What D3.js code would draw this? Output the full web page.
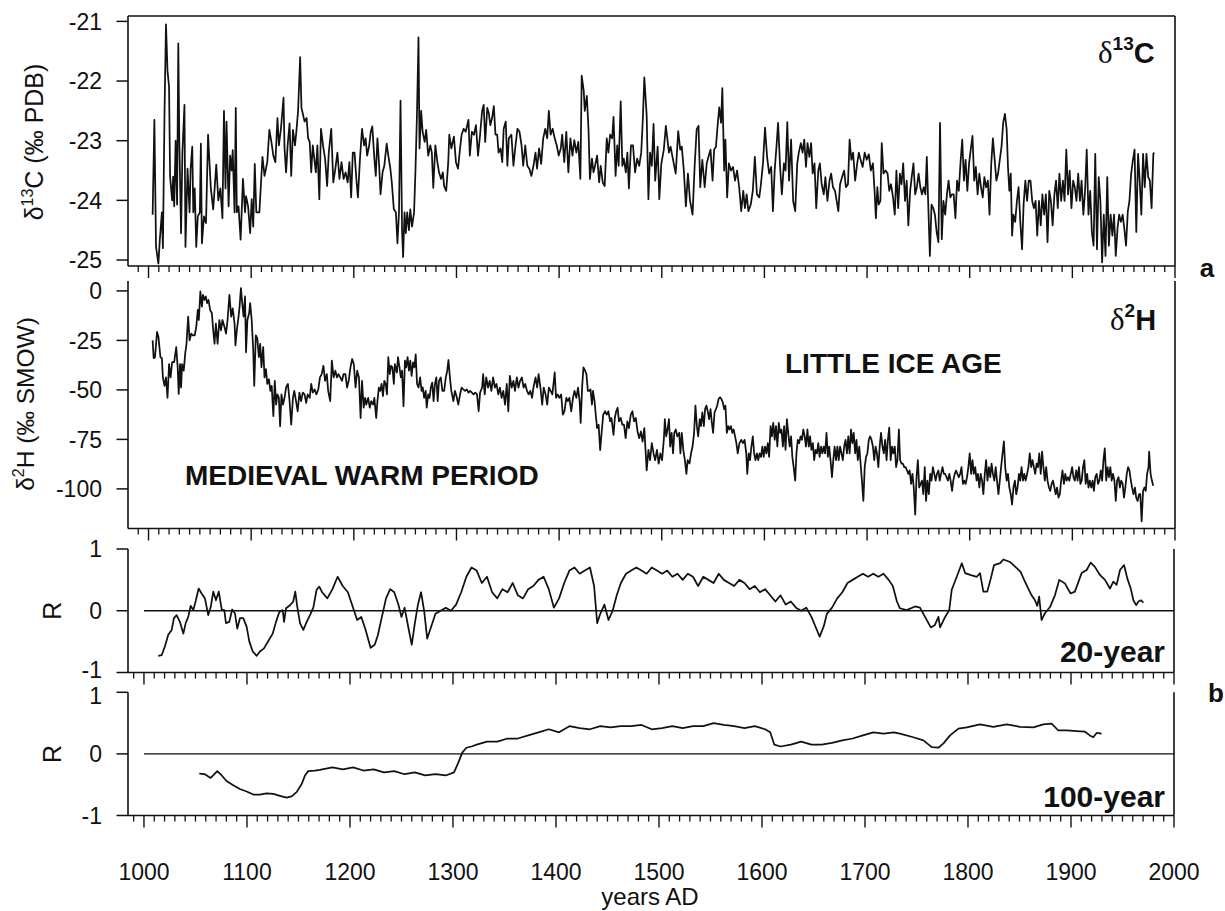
<!DOCTYPE html>
<html>
<head>
<meta charset="utf-8">
<script src="https://cdn.jsdelivr.net/npm/d3@7"></script>
<style>
  html, body { margin: 0; padding: 0; background: #fff; }
  svg { display: block; font-family: "Liberation Sans", Arial, Helvetica, sans-serif; }
</style>
</head>
<body>
<svg id="chart" width="1225" height="911"></svg>
<script>
// ---- data: [year AD, value] ----
const d13c = [[1004,-24.24],[1005.7,-22.65],[1007.3,-24.78],[1009.6,-25.06],[1011,-24.66],[1013,-24.2],[1014,-24.8],[1015.6,-22.5],[1017,-21.05],[1018.5,-21.83],[1020,-22.1],[1021,-23.6],[1023,-24.0],[1024,-23.6],[1025,-24.1],[1026.4,-23.0],[1027.8,-24.07],[1029,-21.37],[1030,-23.0],[1031.7,-24.55],[1033,-23.2],[1035,-22.4],[1036,-24.78],[1038,-23.47],[1040,-24.2],[1041,-23.47],[1042.6,-23.1],[1043.6,-24.2],[1045,-23.8],[1046.5,-24.78],[1048,-24.27],[1050,-24.2],[1051,-23.05],[1052,-24.72],[1054,-24.27],[1056,-24.38],[1058,-22.9],[1060.7,-23.8],[1063,-24.15],[1066,-23.4],[1068,-24.0],[1070,-23.8],[1072,-24.3],[1073.5,-22.5],[1075,-23.8],[1076,-22.68],[1078,-24.1],[1079.5,-23.25],[1081,-23.5],[1082,-23.16],[1083.8,-24.2],[1085,-22.45],[1086,-24.2],[1087.7,-24.1],[1089.7,-24.66],[1092,-23.64],[1094,-24.2],[1095,-23.93],[1097,-24.1],[1099,-24.55],[1100.5,-23.98],[1102,-24.44],[1103.5,-23.39],[1105,-24.2],[1108,-24.2],[1111,-23.27],[1113,-23.59],[1115.7,-23.36],[1117.7,-22.82],[1119.7,-23.02],[1121.6,-23.25],[1123.6,-23.36],[1125.6,-22.62],[1127,-23.08],[1129,-22.8],[1131.5,-22.28],[1132.5,-23.13],[1134,-23.53],[1135.5,-23.08],[1137.4,-22.71],[1139,-23.59],[1140.7,-22.82],[1142.7,-23.08],[1144,-22.85],[1145.7,-22.5],[1147.7,-21.6],[1149,-22.45],[1150.6,-22.57],[1152,-22.68],[1154,-22.62],[1155.5,-22.96],[1157,-23.02],[1158.5,-23.53],[1160,-23.08],[1161.5,-23.3],[1163,-23.53],[1164.5,-23.08],[1166.4,-23.98],[1168,-22.8],[1170,-23.08],[1172,-23.3],[1174,-23.76],[1175.6,-23.2],[1178,-22.8],[1180,-23.7],[1182,-23.47],[1184,-23.2],[1186,-23.64],[1188,-23.36],[1190,-23.64],[1192,-23.53],[1194,-23.7],[1195.7,-23.36],[1197.4,-23.95],[1199,-23.2],[1200.7,-23.2],[1202.7,-23.7],[1204,-23.95],[1206,-23.3],[1208,-22.8],[1210,-23.08],[1211.5,-22.96],[1213,-23.25],[1215,-23.08],[1216.5,-22.85],[1218,-22.76],[1220,-23.3],[1221.4,-23.59],[1223,-22.96],[1224.7,-23.42],[1226,-23.9],[1228,-23.53],[1229.7,-23.42],[1232,-23.05],[1233.6,-23.25],[1235.6,-23.47],[1237,-23.7],[1239,-24.15],[1241,-24.2],[1242.5,-24.72],[1244,-24.2],[1245.5,-22.33],[1247,-24.5],[1248,-24.95],[1249.4,-24.2],[1250.7,-24.55],[1252,-24.2],[1253.7,-24.5],[1255,-24.15],[1256.7,-24.44],[1258.7,-24.2],[1260,-23.53],[1261.6,-22.5],[1263,-21.27],[1264,-23.13],[1265.6,-22.5],[1267,-22.85],[1269,-23.02],[1270.5,-22.82],[1272.5,-23.25],[1274.5,-23.08],[1276,-23.2],[1277.4,-23.79],[1279.4,-23.08],[1281.4,-23.36],[1283,-23.53],[1285,-23.64],[1286.7,-23.53],[1288,-23.76],[1290,-23.84],[1292,-23.36],[1293,-22.9],[1295,-23.13],[1297.5,-22.93],[1299.5,-23.36],[1301.5,-23.47],[1303.5,-23.13],[1305,-22.9],[1307,-22.8],[1309,-22.85],[1311.7,-22.65],[1313,-23.25],[1315,-22.85],[1317,-22.9],[1319,-22.74],[1321,-23.25],[1323,-22.9],[1325,-22.5],[1326.5,-22.4],[1328,-23.02],[1330,-22.45],[1331.5,-22.54],[1333,-22.74],[1334.7,-22.62],[1336.4,-22.42],[1338,-22.9],[1339.7,-22.9],[1341,-23.2],[1343,-23.13],[1344.6,-23.36],[1346,-22.8],[1348,-22.68],[1349.6,-23.42],[1351,-22.96],[1353.5,-22.9],[1355.5,-23.42],[1357.5,-23.08],[1359.4,-22.8],[1361.4,-22.85],[1363.4,-23.08],[1365,-23.42],[1367,-23.08],[1369,-23.42],[1371,-23.47],[1373,-23.59],[1375,-23.42],[1377,-23.2],[1378.5,-23.47],[1380.5,-23.13],[1382.5,-23.39],[1384.5,-22.96],[1386.5,-22.8],[1388.4,-22.96],[1390,-22.5],[1391.7,-22.9],[1393.7,-22.8],[1395.7,-22.96],[1397.7,-23.08],[1399.6,-23.25],[1401.6,-23.13],[1403,-22.9],[1405,-23.36],[1407,-22.85],[1409,-23.53],[1411,-22.96],[1413,-23.25],[1414.8,-22.99],[1416.8,-23.2],[1418.7,-23.02],[1420.7,-23.64],[1422,-21.91],[1424,-22.17],[1425,-22.5],[1427,-22.25],[1428.6,-22.8],[1430,-23.64],[1432,-23.3],[1433.5,-23.53],[1435,-23.42],[1437,-23.25],[1439,-23.7],[1440.5,-23.42],[1442.5,-23.7],[1444.4,-23.76],[1446.4,-22.96],[1448,-23.2],[1449.7,-22.9],[1451.7,-22.96],[1453,-22.6],[1455,-23.59],[1456.6,-23.08],[1458,-23.42],[1460,-22.34],[1461.6,-23.42],[1463,-23.3],[1465,-23.53],[1466.5,-23.2],[1468,-23.8],[1470,-23.08],[1472,-23.08],[1474,-23.53],[1476,-23.3],[1478,-23.42],[1480,-23.2],[1481.6,-22.62],[1483,-21.94],[1485.3,-22.58],[1487,-23.98],[1488.6,-23.2],[1490.3,-23.42],[1492,-22.72],[1493.6,-23.67],[1496,-23.1],[1497.6,-23.98],[1499.6,-23.38],[1502,-23.15],[1504,-22.75],[1507,-23.2],[1508.6,-23.1],[1511,-23.32],[1513.6,-23.55],[1516,-22.84],[1518,-23.15],[1519.5,-23.1],[1521.5,-23.5],[1523.5,-24.1],[1525.5,-23.55],[1527.5,-24.0],[1530,-24.24],[1532,-23.44],[1534,-22.81],[1535.8,-22.75],[1537.5,-23.78],[1539.5,-23.32],[1541.8,-23.78],[1543.8,-23.38],[1545.5,-23.27],[1547.5,-23.15],[1549.5,-23.67],[1551,-23.15],[1552.8,-23.1],[1554.4,-22.75],[1556,-22.44],[1557.8,-22.7],[1559,-22.12],[1560.8,-23.5],[1562,-22.98],[1563.7,-23.95],[1565.4,-23.38],[1567.4,-23.5],[1569.4,-23.44],[1571.4,-23.67],[1573.4,-23.5],[1575.4,-23.78],[1577.4,-24.18],[1579.4,-23.84],[1581,-24.13],[1582.7,-23.9],[1584.4,-24.18],[1586.7,-24.07],[1588.7,-23.84],[1590.7,-23.27],[1592.7,-23.9],[1595,-23.95],[1596.6,-23.73],[1598.6,-23.38],[1600.6,-22.78],[1602.6,-23.27],[1604.6,-23.55],[1606.6,-23.44],[1608.3,-24.18],[1610,-23.5],[1612,-23.04],[1613.3,-22.7],[1615.3,-23.44],[1617,-23.9],[1619,-23.38],[1620.6,-23.5],[1622.3,-22.69],[1624,-23.67],[1626,-22.98],[1628,-24.01],[1630,-24.18],[1632,-23.38],[1633.5,-23.2],[1635.5,-23.04],[1637.2,-23.2],[1638.8,-22.98],[1640.5,-23.44],[1642,-23.04],[1643.8,-23.27],[1645.5,-23.04],[1647,-23.55],[1648.8,-23.38],[1650.5,-24.13],[1652.5,-23.5],[1654,-23.38],[1655.8,-23.73],[1657.8,-23.9],[1659.4,-23.61],[1661.4,-24.01],[1663.4,-23.67],[1665,-23.55],[1666.8,-23.78],[1668.8,-23.84],[1670.4,-24.01],[1672,-24.18],[1673.7,-23.73],[1675.7,-23.61],[1677.7,-23.5],[1679.4,-23.78],[1681.4,-23.73],[1683,-22.98],[1684.7,-23.32],[1686.4,-23.2],[1688.4,-23.67],[1690.4,-23.38],[1692,-23.2],[1693.7,-23.32],[1695.7,-23.44],[1697.7,-23.2],[1699.7,-23.32],[1701.7,-23.23],[1703.7,-23.5],[1705.7,-23.38],[1707.3,-23.84],[1708.6,-24.3],[1710,-23.78],[1711.3,-24.07],[1713,-24.01],[1714.3,-23.04],[1716,-23.55],[1718,-23.5],[1720,-23.55],[1721.6,-23.84],[1723.3,-23.73],[1725.3,-23.95],[1727,-24.24],[1728.6,-23.5],[1730.3,-24.13],[1732,-23.55],[1733.6,-23.73],[1735.2,-23.38],[1737,-24.01],[1738.6,-23.67],[1740.2,-24.42],[1742,-23.84],[1743.5,-23.61],[1745.2,-23.38],[1746.9,-23.9],[1748.5,-23.78],[1750.2,-23.55],[1751.9,-23.78],[1753.5,-23.9],[1755.2,-23.78],[1756.8,-23.9],[1758.2,-23.27],[1759.5,-24.01],[1761.2,-24.93],[1762.8,-24.07],[1764.5,-24.13],[1766.1,-24.24],[1767.8,-24.53],[1769.5,-24.7],[1771.1,-22.7],[1772.8,-24.65],[1774.4,-24.01],[1776.1,-24.24],[1777.8,-23.9],[1779.4,-23.67],[1781.1,-23.95],[1782.7,-23.9],[1784.4,-23.9],[1786.1,-24.3],[1787.7,-23.67],[1789.4,-23.84],[1791,-23.38],[1792.7,-22.98],[1794.4,-23.67],[1796,-23.32],[1797.7,-23.84],[1799.4,-23.38],[1801,-23.15],[1802.7,-22.92],[1804.4,-23.67],[1806,-23.44],[1807.7,-23.9],[1809.4,-23.55],[1811,-23.78],[1812.7,-23.95],[1814.3,-23.61],[1816,-23.78],[1817.7,-23.67],[1819.3,-24.24],[1821,-23.38],[1822.6,-22.96],[1824.3,-23.32],[1826,-23.67],[1827.6,-23.55],[1829.3,-23.32],[1831,-23.1],[1832.6,-22.7],[1834.3,-22.55],[1836,-22.81],[1837.3,-23.44],[1838.6,-23.84],[1840,-23.55],[1841.3,-24.59],[1842.6,-24.24],[1844.3,-24.36],[1846,-24.01],[1847.6,-23.78],[1849.3,-24.36],[1851,-24.82],[1852.5,-24.07],[1854.2,-23.67],[1855.9,-24.01],[1857.5,-23.67],[1859.2,-23.67],[1860.9,-24.01],[1862.5,-24.13],[1864.2,-24.01],[1865.8,-24.59],[1867.5,-24.01],[1869.2,-24.42],[1870.8,-23.9],[1872.5,-24.24],[1874.2,-23.9],[1875.8,-24.7],[1877.5,-23.84],[1879.1,-24.01],[1880.8,-24.42],[1882.5,-23.9],[1884.1,-23.67],[1885.8,-24.13],[1887.4,-23.55],[1889.1,-24.01],[1890.8,-23.67],[1892.4,-24.01],[1894.1,-23.15],[1895.8,-23.9],[1897.4,-23.5],[1899.1,-24.13],[1900.8,-23.67],[1902.4,-23.78],[1904,-24.01],[1905.7,-23.55],[1907.4,-24.01],[1909,-23.67],[1910.7,-24.24],[1912.4,-23.84],[1914,-23.15],[1915.7,-24.24],[1917.4,-23.84],[1919,-24.53],[1920.7,-24.76],[1922.3,-23.22],[1924,-24.82],[1925.7,-23.61],[1927.3,-24.01],[1929,-25.04],[1930.6,-24.24],[1932.3,-24.93],[1934,-23.61],[1935.6,-24.76],[1937.3,-24.24],[1939,-24.59],[1940.6,-24.24],[1942.3,-24.93],[1944,-24.47],[1945.6,-24.24],[1947.3,-24.36],[1949,-24.24],[1950.6,-24.47],[1952.3,-24.76],[1954,-24.19],[1955.6,-24.01],[1957.3,-23.55],[1959,-23.32],[1960.6,-23.15],[1962.3,-24.53],[1964,-23.22],[1965.6,-23.67],[1967.2,-24.24],[1968.9,-23.22],[1970.5,-23.78],[1972.2,-23.22],[1973.9,-23.61],[1975.5,-23.67],[1977.2,-24.13],[1978.9,-23.22],[1979.8,-23.2]];

const d2h = [[1004,-25],[1005,-34],[1006.3,-33.5],[1008.3,-20.7],[1009.6,-23],[1011.6,-33.5],[1013,-34],[1014,-43.7],[1015.6,-48],[1017,-43.7],[1018.5,-54],[1020,-37],[1021.5,-43.7],[1023,-36],[1025,-36],[1027,-28.4],[1028.4,-38.6],[1029.4,-52],[1030.7,-37],[1031.7,-48.8],[1032.7,-37],[1034.3,-40.3],[1035.7,-31.8],[1037,-26.7],[1038.6,-13],[1040,-25],[1041.6,-21.6],[1043,-22.4],[1045,-22.4],[1046.5,-18.2],[1048,-9.6],[1049,-14.7],[1050.5,-0.3],[1052,-8],[1053,-2],[1054.4,-4.5],[1055.8,-2.8],[1057,-6.2],[1058.4,-4.5],[1060,-9.6],[1061.7,-11.3],[1063,-19.9],[1064.3,-26.7],[1065.6,-16.5],[1067.3,-26.7],[1069,-14.7],[1070.6,-19.9],[1072,-14.7],[1074,-18.2],[1075.5,-21.6],[1077,-14.7],[1078.8,-2],[1080.5,-13],[1082,-8.8],[1083.8,-16.5],[1084.7,-27.5],[1086,-19.9],[1087.7,-13],[1088.7,-8],[1090,1.4],[1091.3,-6.2],[1092.6,-13],[1094,-2.8],[1095,-31],[1096.3,-14.7],[1098,-11.3],[1099,-6.2],[1100.5,-14.7],[1102,-30],[1103,-48],[1104.5,-22.4],[1106,-24],[1107.5,-33.5],[1108.8,-26.7],[1110,-38.6],[1111.7,-28.4],[1113,-43.7],[1114.4,-39.5],[1115.7,-47],[1117.3,-44.6],[1118.7,-50.5],[1120,-48],[1121.6,-63.3],[1123,-45.4],[1124.3,-57.4],[1125.6,-52.3],[1127,-54],[1128.2,-68.4],[1129.5,-52.3],[1131,-57.4],[1132.5,-54],[1134,-48.8],[1135.8,-47],[1137.4,-55.7],[1139,-67.6],[1140.7,-54],[1142,-50.5],[1143.7,-55.7],[1145.3,-60.9],[1147,-51.4],[1148.6,-55.7],[1150.3,-51.4],[1152,-52.3],[1153.6,-56.5],[1155,-52.3],[1157,-54],[1158.5,-47],[1160,-51.4],[1161.8,-49.7],[1163.5,-52.3],[1165.4,-49.7],[1167,-43.7],[1168.7,-42],[1170.4,-37.8],[1172,-45.4],[1173.7,-42],[1175,-50.5],[1177,-55.7],[1178.6,-35.2],[1180.3,-43.7],[1182,-40.3],[1183.6,-43.7],[1185,-42],[1186.8,-43.7],[1188.5,-45.4],[1190,-42],[1191.8,-42],[1193.4,-48.8],[1195,-45.4],[1196.7,-38.6],[1198.4,-34.4],[1200,-37],[1201.7,-48.8],[1203.3,-40.3],[1205,-43.7],[1206.6,-64.2],[1208,-45.4],[1209.6,-59],[1211,-54],[1212.2,-57.4],[1214,-54],[1215.5,-59],[1217,-55.7],[1218.8,-57.4],[1220,-54],[1221.8,-64.2],[1223,-55.7],[1224.4,-48.8],[1225.7,-50.5],[1227,-47],[1228.4,-53.1],[1229.7,-45.4],[1231,-47],[1232.3,-52.3],[1233.6,-33.5],[1235,-42],[1236.3,-37.8],[1237.6,-38.6],[1239,-47],[1240,-37],[1242,-41.2],[1243,-33.5],[1244.5,-38.6],[1245.8,-43.7],[1247,-40.3],[1248.4,-58.2],[1249.8,-35.2],[1251,-38.6],[1252.4,-33.5],[1253.7,-40.3],[1255,-35.2],[1256.3,-42.9],[1257.7,-36.1],[1259,-38.6],[1260.3,-32.1],[1261.6,-47],[1263,-48.8],[1264.6,-43.7],[1266,-50.5],[1267.2,-48.8],[1268.5,-54],[1270,-50.5],[1271,-59],[1272.5,-52.3],[1273.8,-54],[1275,-48.8],[1276.4,-46.3],[1277.7,-55.7],[1279,-47],[1280.4,-43.7],[1281.7,-55.7],[1283,-45.4],[1284.7,-43.7],[1286.3,-50.5],[1288,-50.5],[1289.6,-43.7],[1291,-40.3],[1292.2,-34.9],[1293.6,-43.7],[1295,-50.5],[1297,-55.7],[1298.5,-50.5],[1300,-53.1],[1301.8,-57.4],[1303.5,-52.3],[1305,-48.8],[1306.7,-49.7],[1308.4,-50.5],[1310,-49.7],[1311.7,-51.4],[1313.3,-50.5],[1315,-51.4],[1316.6,-52.3],[1318.3,-51.4],[1320,-52.3],[1321.6,-60.8],[1323,-51.4],[1325,-48.8],[1326,-42],[1327.5,-52.3],[1329,-43.7],[1330.8,-48.8],[1332.4,-45.4],[1334,-50.5],[1335.7,-43.7],[1337.4,-48.8],[1339,-47],[1340.7,-52.3],[1342.3,-48.8],[1344,-54],[1345.6,-50.5],[1347.3,-57.4],[1349,-47],[1350.5,-60.8],[1352,-42.9],[1353.8,-48.8],[1355.5,-45.4],[1357,-50.5],[1358.8,-43.7],[1360.4,-48.8],[1362,-45.4],[1363.7,-43.7],[1365.4,-48.8],[1367,-47],[1368.7,-50.5],[1370.3,-52.3],[1372,-50.5],[1373.6,-54],[1375,-48.8],[1377,-43.7],[1378.6,-48.8],[1380,-42],[1381.8,-48.8],[1383.5,-57.4],[1385,-48.8],[1386.8,-52.3],[1388.4,-57.4],[1390,-48.8],[1391.7,-50.5],[1393.4,-52.3],[1395.7,-41.2],[1397,-54],[1398.6,-52.3],[1400.3,-54],[1402,-52.3],[1403.6,-62.5],[1405.2,-60.8],[1407,-54],[1408.5,-55.7],[1410,-54],[1411.8,-60.8],[1413.5,-54],[1415,-50.5],[1416.8,-54],[1418.4,-48.8],[1420,-55.7],[1421,-66.7],[1422.4,-48.8],[1423.7,-38.6],[1425.3,-40.3],[1426.6,-42],[1428,-50.5],[1429.3,-50.5],[1430.6,-49.7],[1432,-57.4],[1433,-50.5],[1434.5,-55.7],[1436,-64.2],[1437,-69.3],[1438.5,-67.6],[1440,-80.4],[1441.5,-71],[1443,-62.5],[1444.8,-60.8],[1446.4,-62.5],[1448,-60.8],[1449.7,-65.9],[1451,-64.2],[1453,-72.7],[1454.3,-64.2],[1455.6,-60.8],[1457,-59],[1458.3,-65.9],[1460,-64.2],[1461.6,-67.6],[1463.2,-67.6],[1464.8,-74.4],[1466.5,-65.9],[1468,-69.3],[1469.8,-62.5],[1471.4,-60.8],[1473,-65.9],[1474.7,-64.2],[1476.4,-71],[1478,-74.4],[1479.7,-71],[1481.3,-76.1],[1483,-69.3],[1485.3,-90.7],[1487,-80.3],[1488.6,-85.5],[1490.3,-76.9],[1492,-82.1],[1493.6,-85.5],[1495.3,-80.3],[1497,-87.2],[1498.6,-82.1],[1500.3,-85.5],[1502,-75.2],[1503,-64.8],[1504.3,-73.5],[1505.6,-70],[1507,-64.8],[1508.2,-78.6],[1509.6,-71.7],[1511,-82.1],[1512.2,-71.7],[1513.6,-70],[1515.2,-73.5],[1517,-71.7],[1518.2,-82.1],[1519.5,-71.7],[1521,-80.3],[1522.5,-85.5],[1524,-92.4],[1525.2,-85.5],[1527,-87.2],[1528.5,-82.1],[1530,-78.6],[1531.5,-71.7],[1532.8,-57.9],[1534.2,-68.3],[1535.5,-73.5],[1537,-64.8],[1538.2,-68.3],[1539.5,-61.4],[1541,-68.3],[1542.2,-59.7],[1543.5,-57.9],[1545,-61.4],[1546.1,-64.8],[1547.5,-59.7],[1548.8,-66.6],[1550,-71.7],[1551.4,-61.4],[1552.8,-59.7],[1554,-57.9],[1555.4,-54.5],[1556.8,-53.7],[1558,-54.5],[1559.4,-56.2],[1560.8,-59.7],[1562,-57.9],[1563.4,-71.7],[1564.8,-68.3],[1566,-70],[1567.4,-68.3],[1568.7,-71.7],[1570,-70],[1571.4,-73.5],[1572.7,-76.9],[1574,-82.1],[1575.7,-76.9],[1577.4,-75.2],[1579,-76.9],[1580.7,-75.2],[1582.3,-82.1],[1583.3,-92.4],[1584.7,-82.1],[1586,-85.5],[1587.3,-78.6],[1588.7,-73.5],[1590,-82.1],[1591.3,-85.5],[1592.7,-82.1],[1594,-85.5],[1595.3,-82.1],[1596.7,-83.8],[1598,-78.6],[1599.3,-83.8],[1600.6,-78.6],[1602,-82.1],[1603.3,-76.9],[1604.6,-83.8],[1606,-68.3],[1607.3,-73.5],[1608.6,-66.6],[1610,-75.2],[1611.3,-68.3],[1612.6,-78.6],[1614,-66.6],[1615.3,-71.7],[1616.6,-70],[1618,-78.6],[1619.2,-68.3],[1620.6,-80.3],[1621.9,-64.8],[1623.2,-71.7],[1624.6,-78.6],[1626,-73.5],[1627.2,-83.8],[1628.5,-89],[1630,-95.8],[1631.2,-82.1],[1632.5,-75.2],[1633.9,-76.9],[1635.2,-73.5],[1636.5,-75.2],[1637.9,-70],[1639.2,-73.5],[1640.5,-78.6],[1641.9,-70],[1643.2,-78.6],[1644.5,-73.5],[1645.8,-80.3],[1647.2,-76.9],[1648.5,-85.5],[1649.8,-80.3],[1651.2,-82.1],[1652.5,-76.9],[1653.8,-83.8],[1655.1,-78.6],[1656.5,-82.1],[1657.8,-78.6],[1659.1,-82.1],[1660.5,-71.7],[1661.8,-83.8],[1663.1,-78.6],[1664.4,-85.5],[1665.8,-94.1],[1667.1,-85.5],[1668.4,-78.6],[1669.8,-85.5],[1671.1,-78.6],[1672.4,-85.5],[1673.7,-78.6],[1675.1,-82.1],[1676.4,-85.5],[1677.7,-78.6],[1679,-75.2],[1680.4,-82.1],[1681.7,-73.5],[1683,-82.1],[1684.4,-70],[1685.7,-76.9],[1687,-71.7],[1688.4,-82.1],[1689.7,-75.2],[1691,-85.5],[1692.4,-78.6],[1693.7,-87.2],[1695,-95.8],[1696.4,-106.1],[1697.7,-89],[1699,-83.8],[1700.3,-82.1],[1701.7,-75.2],[1703,-73.5],[1704.3,-75.2],[1705.7,-78.6],[1707,-85.5],[1708.3,-78.6],[1709.6,-82.1],[1711,-89],[1712.3,-78.6],[1713.6,-71.7],[1715,-78.6],[1716.3,-82.1],[1717.6,-75.2],[1719,-85.5],[1720.3,-75.2],[1721.6,-69.1],[1723,-85.5],[1724.3,-78.6],[1725.6,-82.1],[1727,-78.6],[1728.3,-89],[1729.6,-85.5],[1731,-70],[1732.2,-85.5],[1733.6,-87.2],[1734.9,-87.2],[1736.2,-89],[1737.6,-89],[1738.9,-90.7],[1740.2,-92.4],[1741.5,-90.7],[1742.9,-97.5],[1744.2,-92.4],[1745.5,-99.3],[1746.9,-113],[1748.2,-94.1],[1749.5,-85.5],[1750.8,-99.3],[1752.2,-97.5],[1753.5,-95.8],[1754.8,-102.7],[1756.2,-89],[1757.5,-106.1],[1758.8,-95.8],[1760.2,-102.7],[1761.5,-92.4],[1762.8,-95.8],[1764.1,-89],[1765.5,-92.4],[1766.8,-95.8],[1768.1,-92.4],[1769.5,-90.7],[1770.8,-95.8],[1772.1,-92.4],[1773.5,-89],[1774.8,-92.4],[1776.1,-92.4],[1777.4,-94.1],[1778.8,-95.8],[1780.1,-92.4],[1781.4,-95.8],[1782.8,-101],[1784,-95.8],[1785.4,-92.4],[1786.7,-90.7],[1788,-92.4],[1789.4,-94.1],[1790.7,-92.4],[1792,-89],[1793.4,-97.5],[1794.7,-95.8],[1796,-97.5],[1797.4,-94.1],[1798.7,-89],[1800,-82.1],[1801.4,-92.4],[1802.7,-85.5],[1804,-92.4],[1805.4,-89],[1806.7,-95.8],[1808,-92.4],[1809.4,-99.3],[1810.7,-92.4],[1812,-95.8],[1813.3,-102.7],[1814.7,-92.4],[1816,-85.5],[1817.3,-95.8],[1818.7,-89],[1820,-94.1],[1821.3,-87.2],[1822.6,-92.4],[1824,-95.8],[1825.3,-89],[1826.6,-95.8],[1828,-102.7],[1829.3,-95.8],[1830.6,-89],[1832,-82.1],[1833.3,-76],[1834.6,-89],[1836,-95.8],[1837.3,-92.4],[1838.6,-99.3],[1840,-102.7],[1841.3,-107.9],[1842.6,-99.3],[1844,-95.8],[1845.3,-102.7],[1846.6,-99.3],[1848,-92.4],[1849.2,-95.8],[1850.5,-89],[1851.9,-95.8],[1853.2,-92.4],[1854.5,-95.8],[1855.9,-92.4],[1857.2,-89],[1858.5,-82.1],[1859.9,-89],[1861.2,-85.5],[1862.5,-89],[1863.8,-92.4],[1865.2,-87.2],[1866.5,-89],[1867.8,-82.1],[1869.2,-92.4],[1870.5,-81.2],[1871.8,-89],[1873.2,-95.8],[1874.5,-89],[1875.8,-95.8],[1877.2,-99.3],[1878.5,-101],[1879.8,-97.5],[1881.1,-95.8],[1882.5,-99.3],[1883.8,-102.7],[1885.1,-99.3],[1886.5,-104.4],[1887.8,-102.7],[1889.1,-95.8],[1890.4,-90.7],[1891.8,-97.5],[1893.1,-92.4],[1894.4,-95.8],[1895.8,-94.1],[1897.1,-95.8],[1898.4,-92.4],[1899.8,-89],[1901.1,-94.1],[1902.4,-95.8],[1903.8,-90.7],[1905.1,-95.8],[1906.4,-89],[1907.8,-97.5],[1909.1,-95.8],[1910.4,-89],[1911.7,-85.5],[1913,-97.5],[1914.4,-92.4],[1915.7,-99.3],[1917,-95.8],[1918.4,-99.3],[1919.7,-95.8],[1921,-101],[1922.3,-94.1],[1923.7,-92.4],[1925,-97.5],[1926.3,-95.8],[1927.7,-90.7],[1929,-95.8],[1930.3,-85.5],[1931.6,-79.5],[1933,-95.8],[1934.3,-89],[1935.6,-94.1],[1937,-89],[1938.3,-95.8],[1939.6,-92.4],[1941,-95.8],[1942.3,-106.1],[1943.6,-95.8],[1945,-94.1],[1946.3,-99.3],[1947.6,-95.8],[1949,-97.5],[1950.3,-104.4],[1951.6,-99.3],[1953,-92.4],[1954.3,-89],[1955.6,-90.7],[1957,-95.8],[1958.2,-99.3],[1959.6,-102.7],[1961,-99.3],[1962.2,-104.4],[1963.6,-106.1],[1965,-102.7],[1966.2,-102.7],[1967.5,-116.4],[1968.9,-101],[1970.2,-99.3],[1971.5,-101],[1972.8,-92.4],[1974.2,-89],[1974.8,-81.2],[1976.2,-92.4],[1977.5,-95.8],[1978.8,-98.4]];

// running correlation between the two isotope series, 20-year window
const r20 = [[1013.9,-0.73],[1017.2,-0.72],[1020.3,-0.58],[1023.6,-0.39],[1026.9,-0.31],[1029.1,-0.12],[1031.7,-0.07],[1034.9,-0.18],[1038.2,-0.37],[1040.5,-0.2],[1043,-0.1],[1045.3,0.08],[1047.9,0.01],[1050.4,0.17],[1053.1,0.36],[1056,0.28],[1059.2,0.2],[1062.4,-0.07],[1064.8,0.06],[1067.3,0.31],[1069.9,0.17],[1072.6,0.31],[1075.5,0.02],[1078,0.01],[1079.6,-0.2],[1082.8,-0.18],[1085.7,0.02],[1088.3,-0.04],[1090.6,-0.29],[1093.2,-0.12],[1096.4,-0.12],[1099.7,-0.26],[1102.3,-0.5],[1105.6,-0.66],[1109.4,-0.73],[1112.6,-0.66],[1116.5,-0.61],[1120.7,-0.49],[1125,-0.37],[1128.2,-0.18],[1131.4,-0.02],[1134.7,0.01],[1136,-0.18],[1137.9,0.04],[1141.8,0.09],[1144.9,0.15],[1146.9,0.31],[1148.9,0.06],[1151.5,-0.2],[1154.7,-0.31],[1158,-0.18],[1161.2,-0.07],[1164.4,0.05],[1167.6,0.34],[1170.2,0.39],[1173,0.3],[1178,0.2],[1183,0.35],[1188,0.55],[1193,0.4],[1198,0.3],[1203,0.05],[1207,-0.15],[1211,-0.1],[1215,-0.3],[1220,-0.6],[1224,-0.55],[1227,-0.4],[1231,-0.1],[1235,0.2],[1239,0.35],[1243,0.3],[1247,0.1],[1250,-0.1],[1253,0.05],[1257,-0.3],[1260,-0.55],[1263,-0.2],[1266,0.1],[1269,0.3],[1272,0.0],[1275,-0.45],[1278,-0.3],[1283,-0.05],[1288,0.0],[1293,0.05],[1298,0.0],[1303,0.1],[1308,0.3],[1313,0.55],[1318,0.7],[1323,0.65],[1328,0.45],[1333,0.55],[1338,0.3],[1343,0.2],[1348,0.35],[1353,0.3],[1358,0.45],[1363,0.25],[1368,0.2],[1373,0.35],[1378,0.4],[1383,0.5],[1388,0.55],[1393,0.35],[1398,0.05],[1403,0.2],[1408,0.45],[1413,0.65],[1418,0.7],[1423,0.6],[1428,0.65],[1433,0.7],[1437,0.4],[1440,-0.2],[1443,-0.05],[1447,0.1],[1451,-0.15],[1455,0.0],[1459,0.25],[1463,0.45],[1468,0.6],[1473,0.65],[1478,0.7],[1483,0.65],[1488,0.6],[1493,0.7],[1498,0.65],[1503,0.6],[1508,0.65],[1513,0.55],[1518,0.6],[1523,0.5],[1528,0.6],[1533,0.55],[1538,0.4],[1543,0.55],[1548,0.5],[1553,0.45],[1558,0.6],[1563,0.5],[1568,0.45],[1573,0.4],[1578,0.5],[1583,0.45],[1588,0.35],[1593,0.4],[1598,0.3],[1603,0.35],[1608,0.25],[1613,0.15],[1618,0.25],[1623,0.1],[1628,0.15],[1633,0.05],[1638,0.0],[1643,0.05],[1648,-0.1],[1653,-0.3],[1656,-0.42],[1660,-0.25],[1663,-0.05],[1668,0.05],[1673,0.2],[1678,0.3],[1683,0.45],[1688,0.5],[1693,0.55],[1698,0.6],[1703,0.55],[1708,0.6],[1713,0.55],[1718,0.6],[1723,0.5],[1727,0.4],[1731,0.15],[1733.9,0.04],[1740.5,0.01],[1748.6,0.07],[1753.4,0.05],[1758.3,-0.1],[1763.9,-0.27],[1767.9,-0.23],[1771.3,-0.1],[1772.9,-0.27],[1777.8,-0.1],[1781.8,0.01],[1784.2,0.34],[1789.1,0.55],[1794,0.77],[1797.2,0.61],[1802.1,0.58],[1808.6,0.55],[1811.7,0.61],[1814.9,0.31],[1818.7,0.31],[1822.1,0.52],[1825.3,0.74],[1831.2,0.77],[1834.4,0.83],[1840.8,0.79],[1847.3,0.69],[1851.1,0.63],[1855.3,0.47],[1858.5,0.36],[1861.8,0.25],[1865,0.17],[1867.3,0.08],[1869.1,0.23],[1871.4,-0.15],[1874.7,-0.04],[1879.6,0.06],[1884.4,0.25],[1888.6,0.5],[1894.2,0.44],[1899.6,0.28],[1903.8,0.31],[1910.3,0.61],[1915.2,0.66],[1919.1,0.78],[1923.2,0.71],[1928.1,0.58],[1933,0.5],[1937.8,0.36],[1941.1,0.47],[1944.3,0.42],[1947.6,0.66],[1951.5,0.74],[1954.7,0.52],[1958,0.36],[1960.6,0.17],[1963.2,0.09],[1965.5,0.15],[1967.9,0.17],[1970.3,0.13]];

// running correlation, 100-year window
const r100 = [[1053.7,-0.32],[1059.1,-0.33],[1064.7,-0.39],[1067.2,-0.35],[1071.2,-0.28],[1075.5,-0.35],[1080.1,-0.44],[1086.7,-0.51],[1093.1,-0.57],[1099.7,-0.61],[1106.1,-0.66],[1112.6,-0.66],[1119,-0.64],[1125.6,-0.65],[1132,-0.68],[1138.5,-0.71],[1143.3,-0.69],[1148.2,-0.62],[1153.1,-0.49],[1156.3,-0.35],[1159.5,-0.28],[1165.9,-0.27],[1170.8,-0.26],[1173,-0.25],[1183,-0.22],[1193,-0.25],[1203,-0.22],[1213,-0.27],[1223,-0.25],[1233,-0.3],[1243,-0.28],[1253,-0.33],[1263,-0.3],[1273,-0.35],[1283,-0.33],[1293,-0.35],[1301,-0.3],[1305,-0.15],[1309,0.02],[1313,0.1],[1318,0.12],[1323,0.15],[1333,0.2],[1343,0.2],[1353,0.25],[1363,0.25],[1373,0.3],[1383,0.35],[1393,0.4],[1403,0.35],[1413,0.45],[1423,0.42],[1433,0.4],[1443,0.45],[1453,0.43],[1463,0.45],[1473,0.45],[1483,0.47],[1493,0.4],[1503,0.42],[1513,0.45],[1523,0.42],[1533,0.45],[1543,0.45],[1553,0.5],[1563,0.47],[1573,0.45],[1583,0.42],[1593,0.45],[1603,0.4],[1608,0.35],[1612,0.15],[1618,0.12],[1628,0.15],[1638,0.2],[1648,0.15],[1658,0.15],[1668,0.18],[1678,0.22],[1688,0.25],[1698,0.3],[1708,0.35],[1718,0.33],[1728,0.35],[1733.9,0.33],[1746.9,0.27],[1756.7,0.22],[1764.8,0.11],[1771.3,0.1],[1776.2,0.17],[1782.6,0.3],[1790.7,0.41],[1798.7,0.43],[1811.7,0.48],[1824.6,0.44],[1837.6,0.48],[1850.5,0.44],[1863.5,0.43],[1873.1,0.48],[1881.2,0.49],[1887.7,0.38],[1895.7,0.38],[1905.5,0.37],[1913.6,0.36],[1918.3,0.3],[1921.6,0.27],[1924.9,0.34],[1929.7,0.33]];

// ---- ticks & labels ----
const d13cTicks = [-25, -24, -23, -22, -21];
const d2hTicks = [-100, -75, -50, -25, 0];
const rTicks = [-1, 0, 1];
const yearMajor = d3.range(1000, 2001, 100);
const yearMinor = d3.range(990, 2001, 10);

// ---- layout ----
const svg = d3.select("#chart");
const xA = d3.scaleLinear().domain([980, 2000]).range([128, 1175]);   // part a
const xB = d3.scaleLinear().domain([984.5, 2000]).range([128, 1174]); // part b
const LEFT = 128;

// labelShift nudges stacked tick labels apart where two panels meet
const panels = [
  { x: xA, y: d3.scaleLinear().domain([-25.1, -20.91]).range([266, 16]), ticks: d13cTicks, data: d13c, top: true },
  { x: xA, y: d3.scaleLinear().domain([-120, 5]).range([528.5, 281]), ticks: d2hTicks, data: d2h },
  { x: xB, y: d3.scaleLinear().domain([-1, 1]).range([672.5, 549]), ticks: rTicks, data: r20, zero: true, labelShift: { "-1": -3 } },
  { x: xB, y: d3.scaleLinear().domain([-1, 1]).range([815.5, 692.3]), ticks: rTicks, data: r100, zero: true, labels: true, labelShift: { "1": 3 } }
];

const ink = "#111";
const fmt = d => (d < 0 ? "-" + Math.abs(d) : String(d));

panels.forEach(p => {
  const [yBot, yTop] = p.y.range();
  const xR = p.x.range()[1];
  const g = svg.append("g");
  const shift = p.labelShift || {};

  // frame: left axis, bottom axis, right edge (top edge on first panel)
  g.append("line").attr("x1", LEFT).attr("x2", LEFT).attr("y1", yTop).attr("y2", yBot)
    .attr("stroke", ink).attr("stroke-width", 1.6);
  g.append("line").attr("x1", LEFT).attr("x2", xR).attr("y1", yBot).attr("y2", yBot)
    .attr("stroke", ink).attr("stroke-width", 1.6);
  g.append("line").attr("x1", xR).attr("x2", xR).attr("y1", yTop).attr("y2", yBot)
    .attr("stroke", ink).attr("stroke-width", 1.6);
  if (p.top) {
    g.append("line").attr("x1", LEFT).attr("x2", xR).attr("y1", yTop).attr("y2", yTop)
      .attr("stroke", ink).attr("stroke-width", 1.6);
  }

  // y ticks and labels
  g.selectAll(".yt").data(p.ticks).join("line")
    .attr("x1", LEFT - 11.5).attr("x2", LEFT)
    .attr("y1", d => p.y(d)).attr("y2", d => p.y(d))
    .attr("stroke", ink).attr("stroke-width", 1.5);
  g.selectAll(".yl").data(p.ticks).join("text")
    .attr("x", 102).attr("y", d => p.y(d) + (shift[String(d)] || 0)).attr("dy", "0.36em")
    .attr("text-anchor", "end").attr("font-size", 23).attr("fill", ink)
    .text(fmt);

  // year ticks below each panel
  const minor = yearMinor.filter(v => v % 100 !== 0 && p.x(v) > LEFT + 1);
  g.selectAll(".xm").data(minor).join("line")
    .attr("x1", d => p.x(d)).attr("x2", d => p.x(d))
    .attr("y1", yBot).attr("y2", yBot + 6)
    .attr("stroke", ink).attr("stroke-width", 1.3);
  g.selectAll(".xM").data(yearMajor).join("line")
    .attr("x1", d => p.x(d)).attr("x2", d => p.x(d))
    .attr("y1", yBot).attr("y2", yBot + 12)
    .attr("stroke", ink).attr("stroke-width", 1.4);

  if (p.labels) {
    g.selectAll(".xl").data(yearMajor).join("text")
      .attr("x", d => p.x(d)).attr("y", 880)
      .attr("text-anchor", "middle").attr("font-size", 23).attr("fill", ink)
      .text(d => d);
  }

  if (p.zero) {
    g.append("line").attr("x1", p.x(1000)).attr("x2", xR)
      .attr("y1", p.y(0)).attr("y2", p.y(0))
      .attr("stroke", ink).attr("stroke-width", 1.4);
  }

  const line = d3.line().x(d => p.x(d[0])).y(d => p.y(d[1]));
  g.append("path").datum(p.data).attr("d", line)
    .attr("fill", "none").attr("stroke", ink).attr("stroke-width", 1.75)
    .attr("stroke-linejoin", "round");
});

// ---- axis titles ----
function vTitle(x, y, size, parts) {
  const t = svg.append("text")
    .attr("transform", `translate(${x},${y}) rotate(-90)`)
    .attr("text-anchor", "middle").attr("font-size", size).attr("fill", ink);
  parts.forEach(([s, opts]) => {
    const ts = t.append("tspan").text(s);
    if (opts) Object.entries(opts).forEach(([k, v]) => ts.attr(k, v));
  });
}
vTitle(43, 142, 25, [["δ"], ["13", { "font-size": 16, dy: -10 }], ["C (‰ PDB)", { dy: 10 }]]);
vTitle(34, 404, 24.5, [["δ"], ["2", { "font-size": 16, dy: -10 }], ["H (‰ SMOW)", { dy: 10 }]]);
vTitle(61, panels[2].y(0), 25, [["R"]]);
vTitle(61, panels[3].y(0), 25, [["R"]]);

svg.append("text").attr("x", 650).attr("y", 905).attr("text-anchor", "middle")
  .attr("font-size", 24).attr("fill", ink).text("years AD");

// ---- series names inside panels ----
function isoLabel(x, y, sup, el) {
  const t = svg.append("text").attr("x", x).attr("y", y).attr("fill", ink);
  t.append("tspan").attr("font-family", "'Liberation Serif', 'Times New Roman', serif")
    .attr("font-size", 31).text("δ");
  t.append("tspan").attr("font-weight", "bold").attr("font-size", 19).attr("dy", -13).text(sup);
  t.append("tspan").attr("font-weight", "bold").attr("font-size", 29).attr("dy", 13).text(el);
}
isoLabel(1098, 63, "13", "C");
isoLabel(1110, 330, "2", "H");

const bold = (x, y, size, s, anchor) => svg.append("text")
  .attr("x", x).attr("y", y).attr("font-size", size).attr("font-weight", "bold")
  .attr("text-anchor", anchor || "start").attr("fill", ink).text(s);

bold(785, 373, 28, "LITTLE ICE AGE");
bold(185, 485, 28, "MEDIEVAL WARM PERIOD");
bold(1165, 662, 30, "20-year", "end");
bold(1165, 807, 30, "100-year", "end");
bold(1207, 277, 26, "a", "middle");
bold(1216, 702, 26, "b", "middle");
</script>
</body>
</html>
